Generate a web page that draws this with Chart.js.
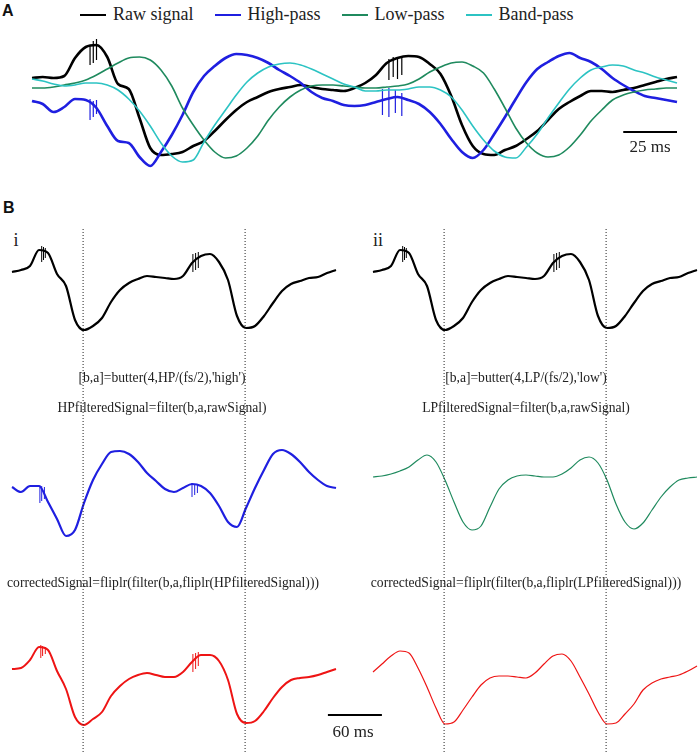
<!DOCTYPE html>
<html>
<head>
<meta charset="utf-8">
<script src="https://cdn.jsdelivr.net/npm/chart.js@4"></script>
<style>
  body { margin: 0; background: #fff; }
  #page { position: relative; width: 700px; height: 754px; overflow: hidden; font-family: "Liberation Serif", serif; color: #222; }
  canvas { position: absolute; }
  .t { position: absolute; white-space: nowrap; transform: translate(-50%, -50%); }
  .panel { position: absolute; font-family: "Liberation Sans", Arial, sans-serif; font-weight: bold; font-size: 16px; color: #111; }
  .leg { position: absolute; top: 4px; left: 80px; display: flex; align-items: center; font-size: 18px; }
  .leg span.ln { display: inline-block; width: 26px; height: 2px; margin-right: 7px; }
  .leg span.tx { margin-right: 21px; }
  .code { font-size: 13.6px; }
</style>
</head>
<body>
<div id="page">
  <div class="panel" style="left:2px;top:2px;">A</div>
  <div class="leg">
    <span class="ln" style="background:#000"></span><span class="tx">Raw signal</span>
    <span class="ln" style="background:#1f1fe0"></span><span class="tx">High-pass</span>
    <span class="ln" style="background:#1f8a5e"></span><span class="tx">Low-pass</span>
    <span class="ln" style="background:#2cc3c3"></span><span class="tx">Band-pass</span>
  </div>
  <canvas id="chartA" width="700" height="165" style="left:0;top:25px;"></canvas>
  <div class="t" style="left:650px;top:147px;font-size:17px;">25 ms</div>

  <div class="panel" style="left:3px;top:199px;">B</div>
  <div class="t" style="left:16px;top:240px;font-size:18px;">i</div>
  <div class="t" style="left:378px;top:240px;font-size:18px;">ii</div>

  <canvas id="chartBi" width="390" height="525" style="left:0;top:229px;"></canvas>
  <canvas id="chartBii" width="339" height="525" style="left:361px;top:229px;"></canvas>

  <div class="t code" style="left:162px;top:378px;">[b,a]=butter(4,HP/(fs/2),'high')</div>
  <div class="t code" style="left:162px;top:408px;">HPfilteredSignal=filter(b,a,rawSignal)</div>
  <div class="t code" style="left:163px;top:583px;">correctedSignal=fliplr(filter(b,a,fliplr(HPfilteredSignal)))</div>
  <div class="t code" style="left:526px;top:378px;">[b,a]=butter(4,LP/(fs/2),'low')</div>
  <div class="t code" style="left:526px;top:408px;">LPfilteredSignal=filter(b,a,rawSignal)</div>
  <div class="t code" style="left:526px;top:583px;">correctedSignal=fliplr(filter(b,a,fliplr(LPfilteredSignal)))</div>
  <div class="t" style="left:353px;top:732px;font-size:17px;">60 ms</div>
</div>

<script>
// ---- panel A: 300 ms window, sampled every 5 ms (amplitude in arbitrary units)
const timesA = Array.from({ length: 61 }, (_, i) => i * 5);

const rawA = [2.7, 2.8, 2.7, 2.9, 4.7, 5.8, 6.0, 4.8, 2.1, 1.6, -1.3, -4.3, -5.0, -4.9, -4.7, -4.1,
  -3.6, -2.6, -1.5, -0.5, 0.3, 0.8, 1.3, 1.6, 1.8, 2.0, 1.8, 1.6, 1.5, 1.4, 1.7, 2.2, 3.0, 4.2, 4.7,
  4.9, 4.8, 4.1, 3.1, 0.9, -2.0, -4.1, -4.9, -5.0, -4.5, -4.1, -3.4, -2.6, -1.5, -0.4, 0.3, 0.9, 1.4,
  1.4, 1.3, 1.5, 1.7, 2.0, 2.3, 2.6, 2.8];

const highA = [0.4, 0.1, -0.7, -0.2, 0.6, 0.5, -0.3, -2.1, -3.6, -3.8, -5.2, -6.1, -4.7, -3.0, -1.0,
  1.3, 2.9, 3.9, 4.7, 5.1, 5.0, 4.7, 4.2, 3.5, 2.9, 2.2, 1.3, 0.7, 0.4, 0.0, -0.1, 0.0, 0.3, 0.6, 0.8,
  0.5, 0.1, -0.7, -1.9, -3.4, -4.7, -5.3, -4.5, -2.9, -1.2, 0.6, 2.3, 3.6, 4.3, 4.9, 5.2, 4.7, 4.3,
  3.6, 2.7, 2.0, 1.4, 0.9, 0.7, 0.5, 0.3];

const lowA = [1.7, 1.7, 1.8, 2.0, 2.2, 2.5, 3.0, 3.6, 4.2, 4.7, 4.8, 4.5, 3.5, 1.9, -0.3, -2.0, -3.5,
  -4.7, -5.3, -5.1, -4.3, -3.1, -1.5, -0.2, 0.8, 1.5, 1.9, 2.0, 2.0, 1.9, 1.8, 1.7, 1.7, 1.8, 1.9,
  2.1, 2.6, 3.3, 3.8, 4.2, 4.3, 3.9, 3.2, 1.6, -0.3, -2.3, -3.8, -4.8, -5.2, -5.0, -4.2, -3.0, -1.6,
  -0.5, 0.5, 1.0, 1.3, 1.5, 1.6, 1.7, 1.7];

const bandA = [2.6, 2.4, 2.1, 1.9, 2.0, 2.2, 2.2, 2.0, 1.5, 0.6, -0.6, -2.1, -3.8, -5.1, -5.7, -5.5,
  -3.7, -2.0, -0.5, 1.0, 2.3, 3.2, 3.8, 4.1, 4.2, 4.0, 3.6, 3.1, 2.6, 2.1, 1.8, 1.4, 1.4, 1.5, 1.5,
  1.6, 1.8, 1.8, 1.5, 0.8, -0.5, -2.1, -3.5, -4.6, -5.2, -5.3, -4.2, -2.9, -1.3, 0.2, 1.6, 2.7, 3.5,
  3.8, 4.0, 3.9, 3.5, 3.2, 2.8, 2.5, 2.2];

// short artefact spikes: [time ms, low, high]
const rawSpikesA = [[27, 4.0, 6.0], [28.5, 4.2, 6.4], [30, 4.5, 6.6], [166, 2.5, 4.6], [168, 2.8, 4.8], [170, 2.6, 4.7], [172, 3.0, 4.9]];
const highSpikesA = [[27, -1.5, 0.6], [28.5, -1.2, 0.4], [30, -0.9, 0.5], [163, -1.0, 1.6], [166, -1.2, 1.7], [169, -0.8, 1.5], [172, -1.1, 1.2]];
const scaleBarA = [275, 300]; // 25 ms

// ---- panel B: 360 ms window, sampled every 10 ms
const timesB = Array.from({ length: 37 }, (_, i) => i * 10);

const rawB = [1.8, 2.0, 2.4, 4.0, 3.7, 1.6, 0.4, -3.0, -4.0, -3.6, -2.8, -1.2, 0.0, 0.7, 1.1, 1.4,
  1.3, 1.2, 1.1, 1.4, 2.7, 3.4, 3.6, 2.8, 1.0, -2.6, -3.8, -3.6, -2.6, -1.3, -0.1, 0.6, 0.9, 1.2,
  1.3, 1.7, 2.0];

const highB = [0.8, 0.3, 0.9, 0.9, -0.7, -2.4, -4.1, -3.5, -0.8, 1.5, 3.1, 4.3, 4.4, 4.1, 3.3, 2.2,
  1.4, 0.6, 0.3, 0.7, 1.1, 0.9, 0.2, -1.1, -2.7, -3.2, -1.3, 0.7, 2.5, 4.1, 4.5, 4.1, 3.3, 2.3, 1.5,
  0.9, 0.7];

const highCorrB = [2.1, 2.2, 3.0, 4.3, 4.0, 1.9, 0.1, -2.7, -3.5, -2.9, -2.2, -0.6, 0.4, 1.1, 1.5,
  1.7, 1.5, 1.3, 1.3, 1.8, 2.8, 3.5, 3.5, 2.9, 1.0, -2.4, -3.3, -3.1, -2.1, -0.8, 0.3, 1.0, 1.2, 1.3,
  1.5, 1.8, 2.1];

const lowB = [1.8, 1.9, 2.1, 2.4, 2.8, 3.5, 4.0, 3.3, 1.5, -0.7, -2.7, -3.5, -3.1, -1.2, 0.6, 1.5,
  1.9, 2.0, 1.9, 1.8, 1.8, 2.1, 2.7, 3.5, 3.8, 3.2, 1.5, -0.9, -2.7, -3.4, -2.8, -1.5, -0.2, 0.8, 1.5,
  1.7, 1.8];

const lowCorrB = [1.8, 2.6, 3.4, 3.9, 3.7, 2.2, 0.3, -1.8, -3.4, -3.2, -2.0, -0.7, 0.5, 1.2, 1.4,
  1.4, 1.3, 1.2, 1.7, 2.6, 3.4, 3.6, 2.9, 1.3, -0.4, -2.2, -3.4, -3.3, -2.4, -1.4, 0.0, 0.7, 1.1, 1.3,
  1.5, 1.9, 2.4];

const rawSpikesB = [[33, 2.8, 4.4], [35, 3.0, 4.3], [37, 3.2, 4.2], [201, 1.8, 3.6], [204, 2.0, 3.7], [207, 2.2, 3.8]];
const highSpikesB = [[31, -0.8, 1.0], [33, -0.6, 0.9], [36, -0.4, 0.8], [200, -0.2, 1.2], [203, 0.0, 1.1], [206, 0.2, 1.1]];
const highCorrSpikesB = [[32, 3.2, 4.5], [34, 3.4, 4.4], [37, 3.6, 4.3], [201, 1.8, 3.6], [204, 2.1, 3.7], [207, 2.4, 3.8]];
const markerTimesB = [79, 259];
const scaleBarB = [351, 411]; // 60 ms

const BLACK = "#000000", BLUE = "#1f1fe0", GREEN = "#1f8a5e", CYAN = "#2cc3c3", RED = "#ee1414";

function pts(times, vals) {
  return times.map((t, i) => ({ x: t, y: vals[i] }));
}

function spikePts(spikes) {
  const out = [];
  spikes.forEach(s => {
    out.push({ x: s[0], y: s[1] }, { x: s[0], y: s[2] }, { x: s[0], y: null });
  });
  return out;
}

function line(data, color, width, axis, smooth) {
  return {
    data: data,
    borderColor: color,
    borderWidth: width,
    pointRadius: 0,
    fill: false,
    yAxisID: axis,
    cubicInterpolationMode: smooth ? "monotone" : "default",
    tension: 0,
    spanGaps: false,
    clip: false,
  };
}

function baseOptions(padding, scales) {
  return {
    responsive: false,
    animation: false,
    devicePixelRatio: 1,
    events: [],
    layout: { padding: padding },
    plugins: { legend: { display: false }, tooltip: { enabled: false } },
    scales: scales,
  };
}

// panel A
new Chart(document.getElementById("chartA"), {
  type: "line",
  data: {
    datasets: [
      line(pts(timesA, bandA), CYAN, 1.6, "y", true),
      line(pts(timesA, lowA), GREEN, 1.6, "y", true),
      line(pts(timesA, highA), BLUE, 2.6, "y", true),
      line(spikePts(highSpikesA), BLUE, 1.2, "y", false),
      line(pts(timesA, rawA), BLACK, 2.6, "y", true),
      line(spikePts(rawSpikesA), BLACK, 1.2, "y", false),
      line(scaleBarA.map(t => ({ x: t, y: -2.7 })), BLACK, 2, "y", false),
    ],
  },
  options: baseOptions({ left: 32, right: 23, top: 0, bottom: 0 }, {
    x: { type: "linear", display: false, min: 0, max: 300 },
    y: { display: false, min: -8.5, max: 8 },
  }),
});

// panel B: three stacked rows share one plot area; each row has its own axis
const areaTop = 229, areaBottom = 752, pxPerUnit = 10;
const rowCenters = [290, 495, 690];
function rowAxis(c) {
  return { display: false, min: -(areaBottom - c) / pxPerUnit, max: (c - areaTop) / pxPerUnit };
}
function scalesB() {
  return {
    x: { type: "linear", display: false, min: 0, max: 360 },
    y1: rowAxis(rowCenters[0]),
    y2: rowAxis(rowCenters[1]),
    y3: rowAxis(rowCenters[2]),
    yd: { display: false, min: 0, max: 1 },
  };
}
function markers() {
  const d = line(spikePts(markerTimesB.map(t => [t, 0, 1])), "#222", 1, "yd", false);
  d.borderDash = [1, 2];
  return d;
}

new Chart(document.getElementById("chartBi"), {
  type: "line",
  data: {
    datasets: [
      markers(),
      line(pts(timesB, rawB), BLACK, 2.2, "y1", true),
      line(spikePts(rawSpikesB), BLACK, 1, "y1", false),
      line(pts(timesB, highB), BLUE, 2.2, "y2", true),
      line(spikePts(highSpikesB), BLUE, 1, "y2", false),
      line(pts(timesB, highCorrB), RED, 2, "y3", true),
      line(spikePts(highCorrSpikesB), RED, 1, "y3", false),
      line(scaleBarB.map(t => ({ x: t, y: -2.5 })), BLACK, 2, "y3", false),
    ],
  },
  options: baseOptions({ left: 12, right: 54, top: 0, bottom: 2 }, scalesB()),
});

new Chart(document.getElementById("chartBii"), {
  type: "line",
  data: {
    datasets: [
      markers(),
      line(pts(timesB, rawB), BLACK, 2.2, "y1", true),
      line(spikePts(rawSpikesB), BLACK, 1, "y1", false),
      line(pts(timesB, lowB), GREEN, 1.2, "y2", true),
      line(pts(timesB, lowCorrB), RED, 1.2, "y3", true),
    ],
  },
  options: baseOptions({ left: 12, right: 3, top: 0, bottom: 2 }, scalesB()),
});
</script>
</body>
</html>
